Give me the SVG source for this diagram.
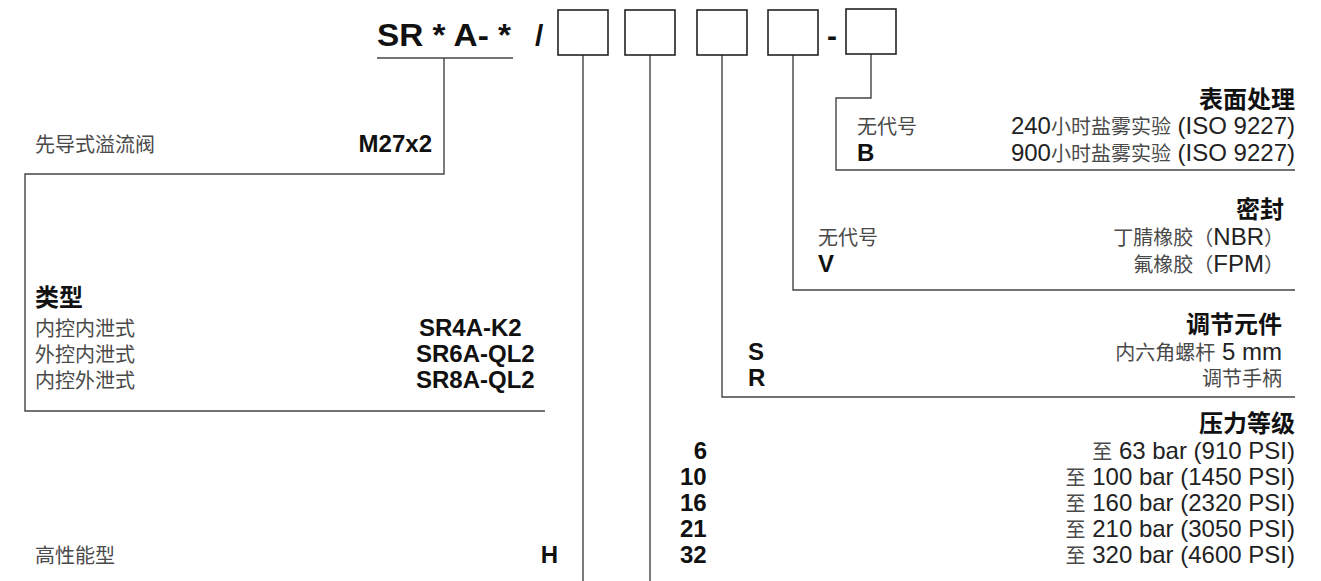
<svg xmlns="http://www.w3.org/2000/svg" width="1321" height="581" viewBox="0 0 1321 581">
<style>
text{font-family:"Liberation Sans","Noto Sans CJK SC",sans-serif;font-size:24px;fill:#222}
.c{font-size:20px;fill:#4a4a4a}
.b{font-weight:bold;fill:#111}
.h{font-weight:bold;font-size:24px;fill:#111}
.r{text-anchor:end}
.ln{fill:none;stroke:#444;stroke-width:1.4}
.box{fill:#fff;stroke:#222;stroke-width:1.6}
</style>
<rect width="1321" height="581" fill="#fff"/>
<g id="connectors" class="ln">
<path d="M377 58H513"/>
<path d="M444 58V174H25V411H545"/>
<path d="M583 55V581"/>
<path d="M650 55V581"/>
<path d="M722 55V397H1295"/>
<path d="M793 55V290H1295"/>
<path d="M871 54V98H836V170H1295"/>
</g>
<g id="code">
<text x="377" y="46" class="b" style="font-size:32px" textLength="134" lengthAdjust="spacingAndGlyphs">SR * A- *</text>
<text x="535" y="46" class="b" style="font-size:30px">/</text>
<rect class="box" x="558" y="10" width="50" height="45"/>
<rect class="box" x="625" y="10" width="50" height="45"/>
<rect class="box" x="697" y="10" width="50" height="45"/>
<rect class="box" x="768" y="10" width="50" height="45"/>
<text x="827" y="46" class="b" style="font-size:30px">-</text>
<rect class="box" x="846" y="9" width="50" height="45"/>
</g>
<g id="valve">
<text x="35" y="152" class="c">先导式溢流阀</text>
<text x="432" y="152" class="b r">M27x2</text>
</g>
<g id="type">
<text x="35" y="306" class="h">类型</text>
<text x="35" y="336" class="c">内控内泄式</text>
<text x="35" y="362" class="c">外控内泄式</text>
<text x="35" y="388" class="c">内控外泄式</text>
<text x="419" y="336" class="b">SR4A-K2</text>
<text x="416" y="362" class="b">SR6A-QL2</text>
<text x="416" y="388" class="b">SR8A-QL2</text>
</g>
<g id="highperf">
<text x="35" y="563" class="c">高性能型</text>
<text x="558" y="563" class="b r">H</text>
</g>
<g id="surface">
<text x="1295" y="108" class="h r">表面处理</text>
<text x="857" y="134" class="c">无代号</text>
<text x="1295" y="134" class="r">240<tspan class="c">小时盐雾实验</tspan> (ISO 9227)</text>
<text x="857" y="161" class="b">B</text>
<text x="1295" y="161" class="r">900<tspan class="c">小时盐雾实验</tspan> (ISO 9227)</text>
</g>
<g id="seal">
<text x="1284" y="218" class="h r">密封</text>
<text x="818" y="245" class="c">无代号</text>
<text x="1284" y="245" class="r"><tspan class="c">丁腈橡胶（</tspan>NBR<tspan class="c">）</tspan></text>
<text x="818" y="272" class="b">V</text>
<text x="1284" y="272" class="r"><tspan class="c">氟橡胶（</tspan>FPM<tspan class="c">）</tspan></text>
</g>
<g id="adjust">
<text x="1282" y="333" class="h r">调节元件</text>
<text x="748" y="360" class="b">S</text>
<text x="1282" y="360" class="r"><tspan class="c">内六角螺杆</tspan> 5 mm</text>
<text x="748" y="386" class="b">R</text>
<text x="1282" y="386" class="r c">调节手柄</text>
</g>
<g id="pressure">
<text x="1295" y="432" class="h r">压力等级</text>
<text x="707" y="459" class="b r">6</text>
<text x="1295" y="459" class="r"><tspan class="c">至</tspan> 63 bar (910 PSI)</text>
<text x="680" y="485" class="b">10</text>
<text x="1295" y="485" class="r"><tspan class="c">至</tspan> 100 bar (1450 PSI)</text>
<text x="680" y="511" class="b">16</text>
<text x="1295" y="511" class="r"><tspan class="c">至</tspan> 160 bar (2320 PSI)</text>
<text x="680" y="537" class="b">21</text>
<text x="1295" y="537" class="r"><tspan class="c">至</tspan> 210 bar (3050 PSI)</text>
<text x="680" y="563" class="b">32</text>
<text x="1295" y="563" class="r"><tspan class="c">至</tspan> 320 bar (4600 PSI)</text>
</g>
</svg>
